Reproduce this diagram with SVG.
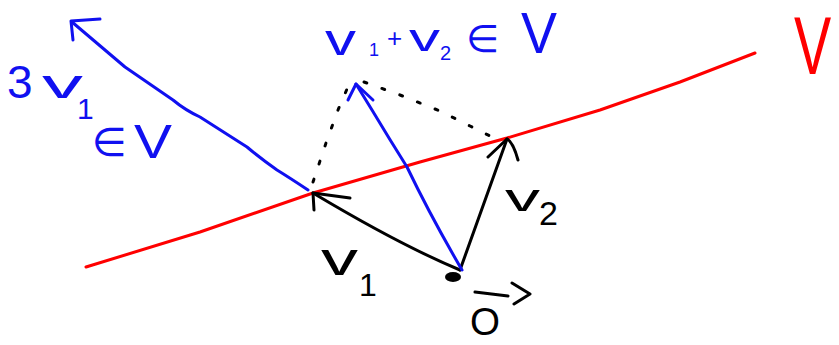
<svg xmlns="http://www.w3.org/2000/svg" width="839" height="345" viewBox="0 0 839 345">
<style>
.ln{fill:none;stroke-width:3;stroke-linecap:round;stroke-linejoin:round}
.blue{stroke:#1010f0}
.red{stroke:#ff0000}
.blk{stroke:#000}
.dot{fill:none;stroke:#000;stroke-width:3;stroke-linecap:round;stroke-dasharray:3 16}
.t{font-family:"Liberation Sans","DejaVu Sans",sans-serif}
.tb{fill:#1010f0}
.tr{fill:#ff0000}
.tk{fill:#000}
</style>
<rect width="839" height="345" fill="#fff"/>
<g id="subspace-line">
<polyline class="ln red" points="86,267 200,232 313,193 420,162 507,138 600,110 680,82 755,53"/>
</g>
<g id="connectors">
<path class="dot" d="M313,182 L326,143 L338,110 L350,82"/>
<path class="dot" d="M364,82 L400,95 L440,111 L470,126 L494,138"/>
<path class="ln blk" d="M460,270 Q400,245 313,193"/>
<polyline class="ln blk" points="350,198 313,193 314,210"/>
<path class="ln blk" d="M460,270 L507,139"/>
<path class="ln blk" d="M488,157 L507,139 Q513,142 518,160"/>
<path class="ln blue" d="M462,270 Q430,215 407,167 Q390,140 372,110 L356,84"/>
<polyline class="ln blue" points="348,100 356,84 373,100"/>
<path class="ln blue" d="M308,190 Q290,178 277,170 Q260,158 247,147 L200,117 Q185,110 173,100 L125,67 L72,22"/>
<polyline class="ln blue" points="100,19 71,21 73,40"/>
</g>
<g id="origin">
<ellipse cx="453" cy="277" rx="8" ry="5" fill="#000"/>
<text class="t tk" x="470" y="335" font-size="38" textLength="30" lengthAdjust="spacingAndGlyphs">O</text>
<path class="ln blk" d="M475,292 L508,296 M512,283 L530,294 L514,304"/>
</g>
<g id="label-v1">
<text class="t tk"><tspan x="321" y="275" font-size="46" textLength="37" lengthAdjust="spacingAndGlyphs">v</tspan><tspan x="359" y="296" font-size="32">1</tspan></text>
</g>
<g id="label-v2">
<text class="t tk"><tspan x="505" y="211" font-size="38" textLength="35" lengthAdjust="spacingAndGlyphs">v</tspan><tspan x="539" y="225" font-size="34">2</tspan></text>
</g>
<g id="label-sum">
<text class="t tb"><tspan x="325" y="55" font-size="44" textLength="31" lengthAdjust="spacingAndGlyphs">v</tspan><tspan x="369" y="56" font-size="18">1</tspan><tspan x="387" y="47" font-size="26">+</tspan><tspan x="409" y="51" font-size="38" textLength="31" lengthAdjust="spacingAndGlyphs">v</tspan><tspan x="440" y="60" font-size="20">2</tspan><tspan x="466" y="52" font-size="38">∈</tspan><tspan x="521" y="53" font-size="57" textLength="36" lengthAdjust="spacingAndGlyphs">V</tspan></text>
</g>
<g id="label-3v1">
<text class="t tb"><tspan x="7" y="98" font-size="46">3</tspan><tspan x="42" y="98" font-size="40" textLength="41" lengthAdjust="spacingAndGlyphs">v</tspan><tspan x="77" y="119" font-size="30">1</tspan><tspan x="92" y="156" font-size="40">∈</tspan><tspan x="134" y="158" font-size="49" textLength="38" lengthAdjust="spacingAndGlyphs">V</tspan></text>
</g>
<g id="label-V">
<text class="t tr" transform="translate(794,74) scale(0.9,1.3)" x="0" y="0" font-size="62">V</text>
</g>
</svg>
